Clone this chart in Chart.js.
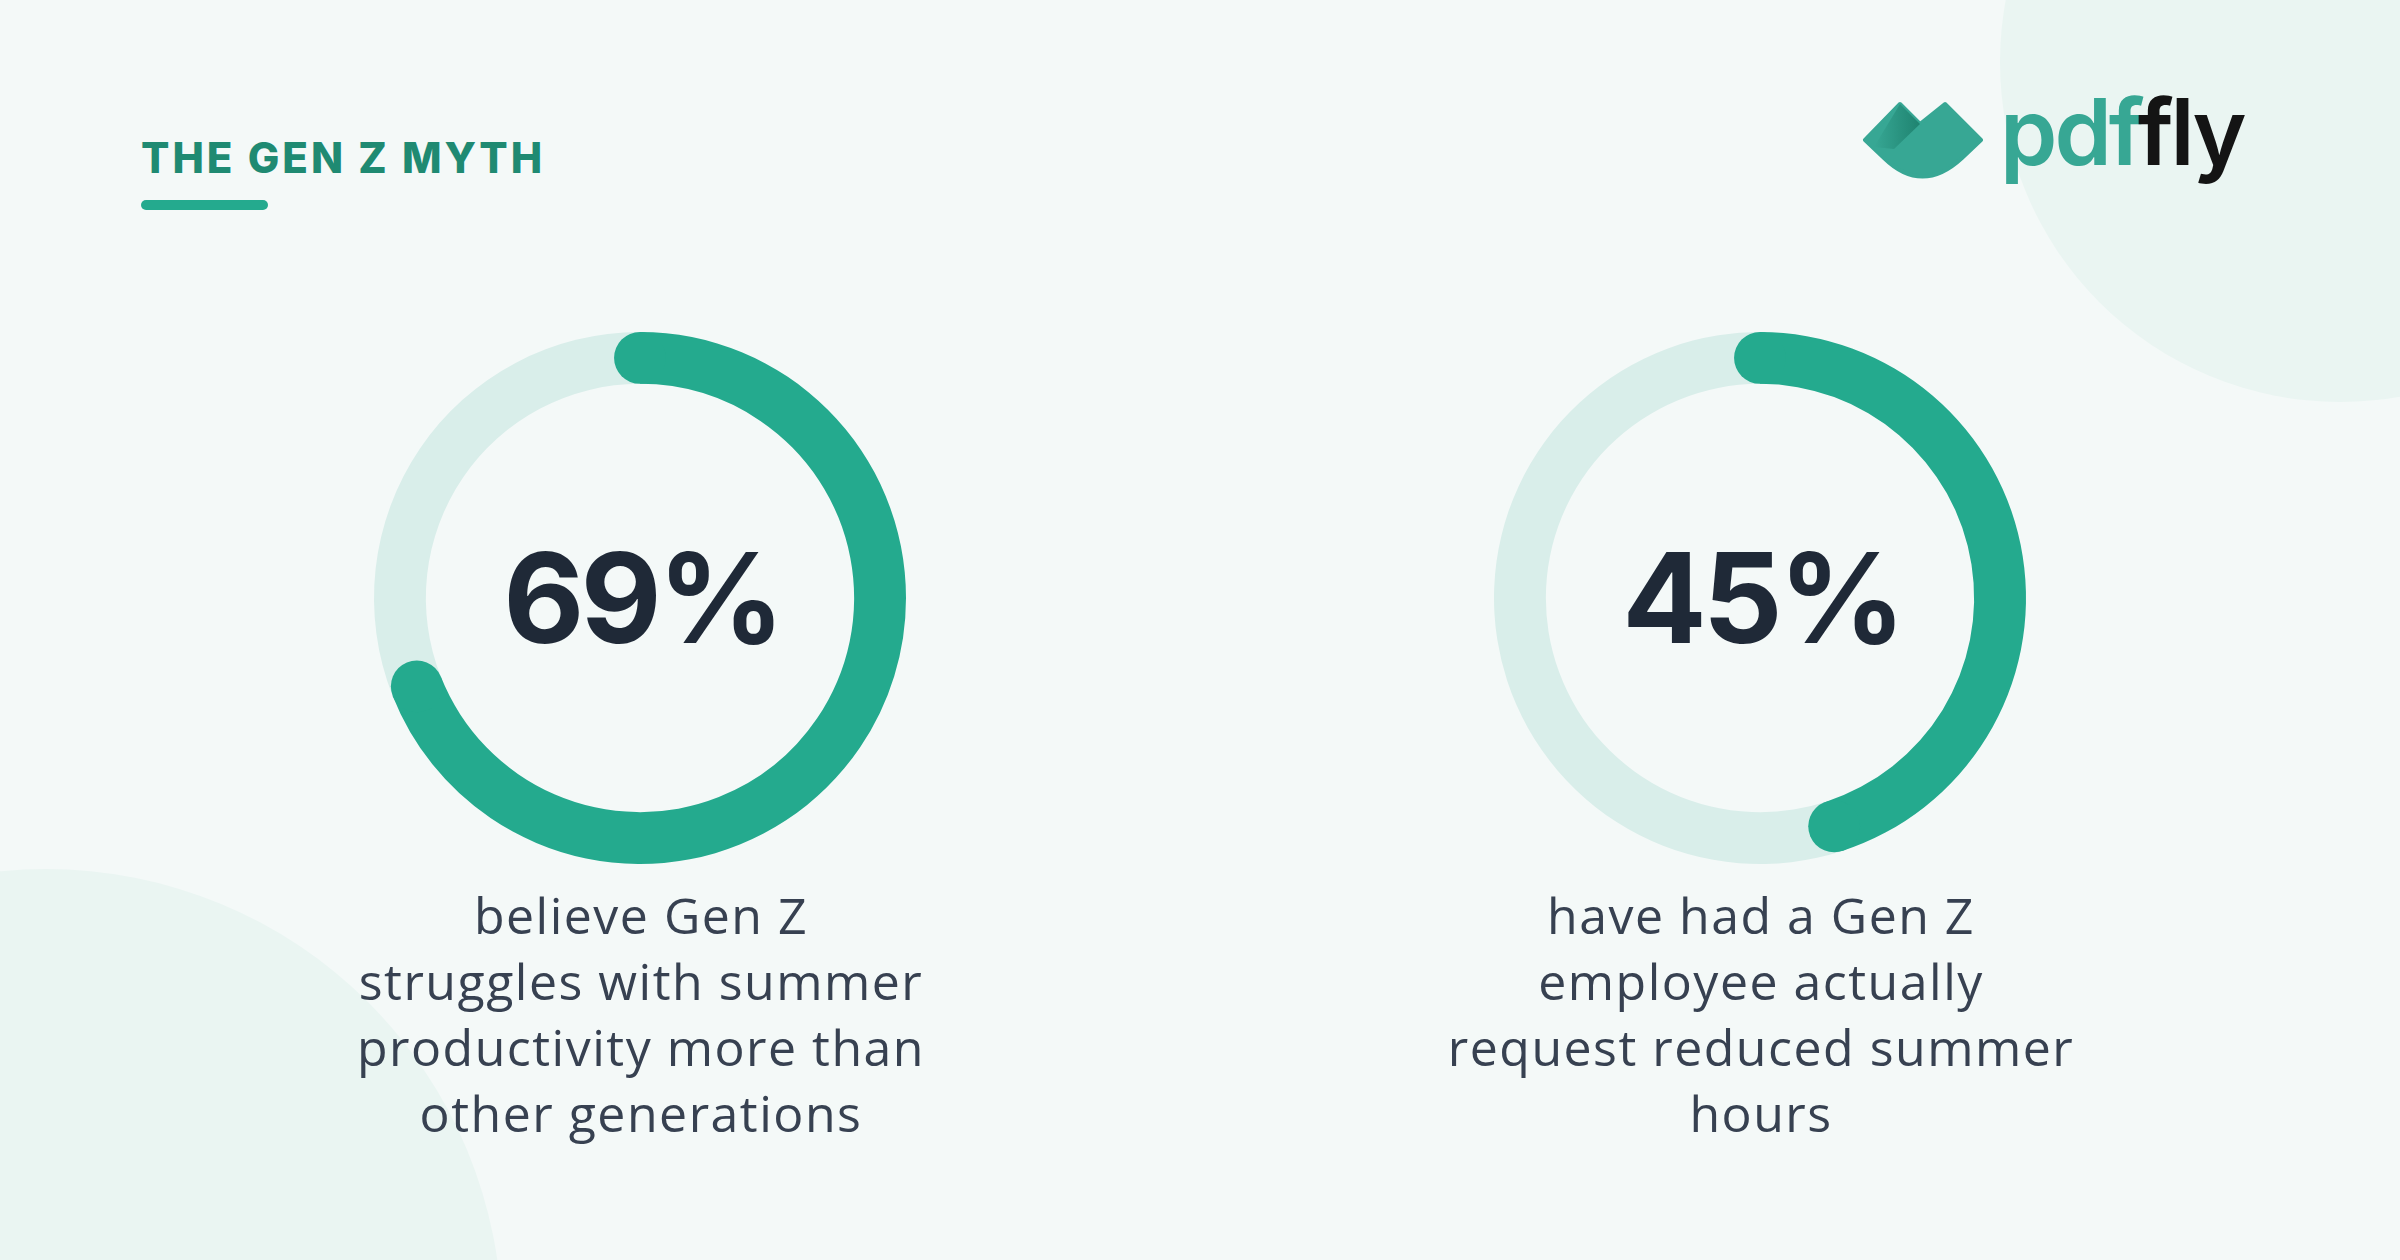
<!DOCTYPE html>
<html lang="en">
<head>
<meta charset="utf-8">
<title>The Gen Z Myth</title>
<script src="https://cdn.jsdelivr.net/npm/chart.js@4.4.1/dist/chart.umd.min.js"></script>
<style>
  html, body { margin: 0; padding: 0; }
  body {
    width: 2400px; height: 1260px; overflow: hidden; position: relative;
    background: #f4f9f8; font-family: "Open Sans", sans-serif;
  }
  .blob { position: absolute; border-radius: 50%; background: #eaf5f2; }
  .blob-tr { left: 2000px; top: -278px; width: 680px; height: 680px; }
  .blob-bl { left: -410px; top: 869px; width: 912px; height: 912px; }

  .title {
    position: absolute; left: 141px; top: 137px; margin: 0;
    font: 800 42px/42px Inter, sans-serif; letter-spacing: 3px; color: #1f8a72;
    white-space: nowrap;
  }
  .title-bar {
    position: absolute; left: 141px; top: 200px; width: 127px; height: 10px;
    border-radius: 5px; background: #24aa8e;
  }

  .logo { position: absolute; left: 1862px; top: 100px; width: 122px; height: 80px; }
  .logo-text {
    position: absolute; left: 2000px; top: 86px; white-space: nowrap;
    font: 600 92px/92px Inter, sans-serif; letter-spacing: -3px;
  }
  .logo-text .pdf { color: #37a794; }
  .logo-text .fly { color: #141414; }

  .ring { position: absolute; width: 600px; height: 600px; }
  .stat {
    position: absolute; width: 600px; text-align: center; margin: 0;
    font: 700 125px/125px Inter, sans-serif; letter-spacing: -4px; color: #1f2937;
  }
  .caption {
    position: absolute; width: 800px; text-align: center; margin: 0;
    font: 500 50px/66px "Open Sans", sans-serif; letter-spacing: 1.5px; color: #374151;
  }
</style>
</head>
<body>
  <div class="blob blob-tr"></div>
  <div class="blob blob-bl"></div>

  <h1 class="title">THE GEN Z MYTH</h1>
  <div class="title-bar"></div>

  <svg class="logo" viewBox="0 0 122 80">
    <defs>
      <linearGradient id="fold" x1="0" y1="0" x2="1" y2="0">
        <stop offset="0" stop-color="#1c7f6c" stop-opacity="0"></stop>
        <stop offset="1" stop-color="#1c7f6c" stop-opacity="0.9"></stop>
      </linearGradient>
    </defs>
    <path d="M3,40 L38,4 L58,24 L83,4 L119,40 L100,58 Q60,95 22,58 Z"
      fill="#37a794" stroke="#37a794" stroke-width="4" stroke-linejoin="round"></path>
    <path d="M38,4 L58,24 L32,49 L12,47 Z" fill="url(#fold)"></path>
  </svg>
  <div class="logo-text"><span class="pdf">pdf</span><span class="fly">fly</span></div>

  <div class="ring" style="left:340px; top:298px;"><canvas id="ring-believe"></canvas></div>
  <div class="ring" style="left:1460px; top:298px;"><canvas id="ring-request"></canvas></div>

  <p class="stat" id="stat-believe" style="left:342px; top:535px;"></p>
  <p class="stat" id="stat-request" style="left:1462px; top:535px;"></p>

  <p class="caption" id="caption-believe" style="left:241px; top:882px;"></p>
  <p class="caption" id="caption-request" style="left:1361px; top:882px;"></p>

<script>
/* global Chart */

// Survey figures (percent of respondents)
const statKeys = ["believe", "request"];
const statValues = [69, 45];
const ringLabels = ["Yes", "Other"];
const statCaptions = [
  ["believe Gen Z", "struggles with summer", "productivity more than", "other generations"],
  ["have had a Gen Z", "employee actually", "request reduced summer", "hours"],
];

(function() {
  "use strict";

  const $ = (sel) => document.querySelector(sel);

  const GREEN = "#24aa8e";
  const TRACK = "#d9eeea";

  // Pone un tope redondo en cada extremo del arco del valor
  const roundCaps = {
    id: "roundCaps",
    afterDatasetsDraw(chart) {
      const arc = chart.getDatasetMeta(0).data[0];
      if (!arc) return;
      const p = arc.getProps(["x", "y", "startAngle", "endAngle", "innerRadius", "outerRadius"], true);
      const mid = (p.innerRadius + p.outerRadius) / 2;
      const capR = (p.outerRadius - p.innerRadius) / 2;
      const ctx = chart.ctx;
      ctx.save();
      ctx.fillStyle = arc.options.backgroundColor;
      [p.startAngle, p.endAngle].forEach((a) => {
        ctx.beginPath();
        ctx.arc(p.x + mid * Math.cos(a), p.y + mid * Math.sin(a), capR, 0, Math.PI * 2);
        ctx.fill();
      });
      ctx.restore();
    },
  };

  /**
   * Dibuja un anillo de progreso con su cifra y texto.
   * @param {string} key - sufijo de los ids.
   * @param {number} value - porcentaje.
   * @param {string[]} lines - lineas del texto.
   * @return {void}
   */
  function renderRing(key, value, lines) {
    const el = $(`#ring-${key}`);
    const ctx = el ? el.getContext("2d") : null;
    if (ctx) {
      new Chart(ctx, {
        type: "doughnut",
        data: {
          labels: ringLabels,
          datasets: [
            {
              data: [value, 100 - value],
              backgroundColor: [GREEN, TRACK],
              borderWidth: 0,
              hoverOffset: 0,
            },
          ],
        },
        options: {
          responsive: true,
          maintainAspectRatio: false,
          animation: false,
          events: [],
          radius: 266,
          cutout: "80.5%",
          layout: { padding: 0 },
          plugins: {
            legend: { display: false },
            tooltip: { enabled: false },
          },
        },
        plugins: [roundCaps],
      });
    }
    $(`#stat-${key}`).textContent = `${value}%`;
    $(`#caption-${key}`).innerHTML = lines.join("<br>");
  }

  statKeys.forEach((key, i) => {
    renderRing(key, statValues[i], statCaptions[i]);
  });
})();
</script>
</body>
</html>
